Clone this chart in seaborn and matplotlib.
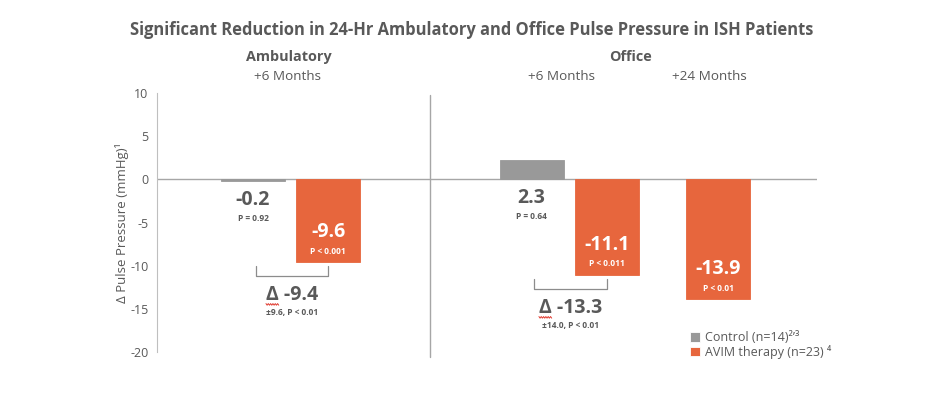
import numpy as np
import pandas as pd
import seaborn as sns
import matplotlib.pyplot as plt

# values
periods = ["Ambulatory +6", "Office +6", "Office +24"]
control = [-0.2, 2.3, np.nan]
avim = [-9.6, -11.1, -13.9]
control_p = ["P = 0.92", "P = 0.64", ""]
avim_p = ["P < 0.001", "P < 0.011", "P < 0.01"]
delta_vals = ["-9.4", "-13.3"]
delta_notes = ["\u00b19.6, P < 0.01", "\u00b114.0, P < 0.01"]
month_labels = ["+6 Months", "+6 Months", "+24 Months"]
legend_labels = ["Control (n=14)\u00b2\u02bc\u00b3", "AVIM therapy (n=23) \u2074"]
yticks = [10, 5, 0, -5, -10, -15, -20]

GRAY = "#999999"
ORANGE = "#E7663D"
TXT = "#595959"

sns.set_style("white")
plt.rcParams["font.family"] = ["Open Sans", "DejaVu Sans"]

df = pd.DataFrame({
    "period": periods * 2,
    "group": ["Control"] * 3 + ["AVIM"] * 3,
    "value": control + avim,
})
# spacer categories to get the uneven spacing between groups
order = [periods[0], " ", "  ", "   ", "    ", periods[1], "     ", periods[2]]

fig = plt.figure(figsize=(9.31, 3.97), dpi=100)
ax = fig.add_axes([0.1686, 0.1134, 0.709, 0.652])

sns.barplot(data=df, x="period", y="value", hue="group", order=order,
            hue_order=["Control", "AVIM"], palette=[GRAY, ORANGE],
            width=2.7, gap=0.15, saturation=1, errorbar=None, ax=ax,
            linewidth=0.6)
for cont in ax.containers:
    for bar in cont:
        bar.set_edgecolor(bar.get_facecolor())

ax.set_xlim(-2.4, 9.45)
ax.set_ylim(-20, 10)
ax.set_yticks(yticks)
ax.set_yticklabels([str(t) for t in yticks], color=TXT, fontsize=9)
ax.tick_params(axis="y", direction="in", length=4, color="#bfbfbf", pad=6)
ax.set_xticks([])
ax.set_xlabel("")
ax.set_ylabel("\u0394 Pulse Pressure (mmHg)\u00b9", color=TXT, fontsize=9.5, labelpad=1)
for s in ["top", "right", "bottom"]:
    ax.spines[s].set_visible(False)
ax.spines["left"].set_color("#bfbfbf")
ax.axhline(0, color="#a6a6a6", lw=1, zorder=0)
ax.plot([2.5, 2.5], [-20.6, 9.8], color="#a6a6a6", lw=1, clip_on=False)

# bar centres per period
centers = {}
for cont, vals, key in zip(ax.containers, [control, avim], ["c", "a"]):
    for bar in cont:
        h = bar.get_height()
        if np.isnan(h):
            continue
        i = int(np.nanargmin([abs(v - h) if not np.isnan(v) else np.inf for v in vals]))
        centers[(key, i)] = bar.get_x() + bar.get_width() / 2

for i in range(3):
    if ("c", i) in centers:
        x = centers[("c", i)]
        base = min(control[i], 0)
        ax.text(x, base - 2.2, f"{control[i]:.1f}", ha="center", va="center",
                color=TXT, fontsize=14, fontweight="bold")
        ax.text(x, base - 4.3, control_p[i], ha="center", va="center",
                color=TXT, fontsize=6, fontweight="bold")
    x = centers[("a", i)]
    ax.text(x, avim[i] + 3.5, f"{avim[i]:.1f}", ha="center", va="center",
            color="white", fontsize=14, fontweight="bold")
    ax.text(x, avim[i] + 1.3, avim_p[i], ha="center", va="center",
            color="white", fontsize=6, fontweight="bold")

# brackets with difference
delta_texts = []
for i in range(2):
    x0 = centers[("c", i)] + 0.05
    x1 = centers[("a", i)]
    top = avim[i] - 0.45
    bot = avim[i] - 1.6
    ax.plot([x0, x0, x1, x1], [top, bot, bot, top], color="#8c8c8c", lw=0.9)
    xm = (x0 + x1) / 2
    t = ax.text(xm, bot - 2.15, "\u0394 " + delta_vals[i], ha="center", va="center",
                color=TXT, fontsize=14, fontweight="bold")
    delta_texts.append(t)
    ax.text(xm, bot - 4.2, delta_notes[i], ha="center", va="center",
            color=TXT, fontsize=6, fontweight="bold")

# header texts
fig.text(0.507, 0.924, "Significant Reduction in 24-Hr Ambulatory and Office Pulse Pressure in ISH Patients",
         ha="center", va="center", color=TXT, fontsize=11.9, fontweight="bold")
fig.text(289 / 931, 1 - 57 / 397, "Ambulatory", ha="center", va="center",
         color=TXT, fontsize=10.4, fontweight="bold")
fig.text(631 / 931, 1 - 57 / 397, "Office", ha="center", va="center",
         color=TXT, fontsize=10.4, fontweight="bold")
for xp, lab in zip([287, 562, 709], month_labels):
    fig.text(xp / 931, 1 - 77 / 397, lab, ha="center", va="center", color=TXT, fontsize=9.7)

handles, _ = ax.get_legend_handles_labels()
ax.legend(handles, legend_labels,
          loc="lower left", bbox_to_anchor=(684 / 931, 32 / 397),
          bbox_transform=fig.transFigure, frameon=False, fontsize=9,
          labelcolor=TXT, handlelength=0.8, handleheight=0.8,
          handletextpad=0.4, labelspacing=0.05, borderpad=0)

# red spell-check squiggle under the delta sign
fig.canvas.draw()
r = fig.canvas.get_renderer()
for t in delta_texts:
    bb = t.get_window_extent(r)
    probe = ax.text(0, 0, "\u0394", fontsize=14, fontweight="bold")
    w = probe.get_window_extent(r).width
    probe.remove()
    xs = np.linspace(bb.x0, bb.x0 + w, 12)
    ys = bb.y0 + 1 + np.where(np.arange(12) % 2 == 0, 0, -1.6)
    pts = ax.transData.inverted().transform(np.column_stack([xs, ys]))
    ax.plot(pts[:, 0], pts[:, 1], color="#e03c31", lw=0.7)

fig.savefig("out.png", dpi=100)
